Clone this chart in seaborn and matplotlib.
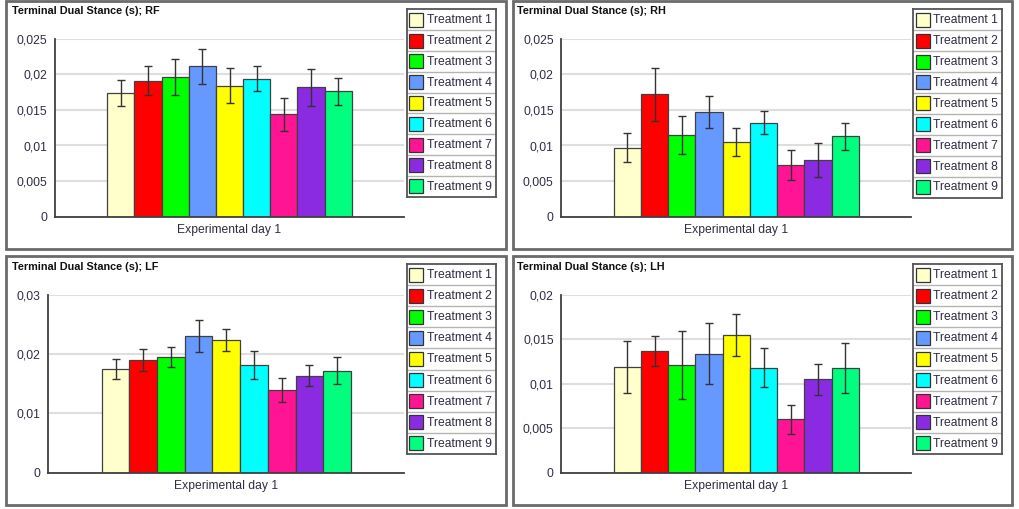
import numpy as np
import pandas as pd
import matplotlib
matplotlib.use("Agg")
import matplotlib.pyplot as plt
from matplotlib.patches import Rectangle
from matplotlib.ticker import FuncFormatter, FixedLocator
import seaborn as sns

# %%
treatments = [f"Treatment {i}" for i in range(1, 10)]
day_label = "Experimental day 1"
colors = ["#FFFFCC", "#FF0000", "#00FF00", "#6699FF", "#FFFF00",
          "#00FFFF", "#FF1493", "#8A2BE2", "#00FF7F"]

rf_mean = [0.0174, 0.0191, 0.0196, 0.0211, 0.0184, 0.0194, 0.0144, 0.0182, 0.0176]
rf_err = [0.0018, 0.0020, 0.0025, 0.0025, 0.0025, 0.0017, 0.0023, 0.0026, 0.0019]
rh_mean = [0.0097, 0.0172, 0.0115, 0.0147, 0.0105, 0.0132, 0.0073, 0.0080, 0.0113]
rh_err = [0.0020, 0.0037, 0.0027, 0.0022, 0.0020, 0.0016, 0.0021, 0.0024, 0.0019]
lf_mean = [0.0175, 0.0190, 0.0196, 0.0230, 0.0224, 0.0182, 0.0140, 0.0164, 0.0172]
lf_err = [0.0017, 0.0019, 0.0017, 0.0027, 0.0019, 0.0023, 0.0020, 0.0017, 0.0023]
lh_mean = [0.0119, 0.0137, 0.0121, 0.0134, 0.0155, 0.0118, 0.0060, 0.0105, 0.0118]
lh_err = [0.0029, 0.0017, 0.0038, 0.0034, 0.0024, 0.0022, 0.0016, 0.0017, 0.0028]

rf_ticks = [0, 0.005, 0.01, 0.015, 0.02, 0.025]
rh_ticks = [0, 0.005, 0.01, 0.015, 0.02, 0.025]
lf_ticks = [0, 0.01, 0.02, 0.03]
lh_ticks = [0, 0.005, 0.01, 0.015, 0.02]

# %%
sns.set_style("white")
plt.rcParams["font.family"] = ["Liberation Sans", "DejaVu Sans"]
text_col = "#2e2e44"
axis_col = "#404040"

W, H = 1019, 509
fig = plt.figure(figsize=(W / 100, H / 100), dpi=100)


def px_rect(x0, y0, x1, y1):
  return [x0 / W, 1 - y1 / H, (x1 - x0) / W, (y1 - y0) / H]


panels = [
  ("RF", rf_mean, rf_err, rf_ticks,
   (55, 38.7, 404, 216.7), (406.7, 9.3, 496, 196.7), (6, 1, 506, 249), (11.7, 11)),
  ("RH", rh_mean, rh_err, rh_ticks,
   (561.3, 38.7, 911.3, 216.7), (913, 9.3, 1002, 197.5), (513, 1, 1012, 249), (517.3, 11)),
  ("LF", lf_mean, lf_err, lf_ticks,
   (48.3, 295, 404.3, 472.7), (406.7, 264, 496, 454), (6, 256, 506, 505), (11.7, 267.3)),
  ("LH", lh_mean, lh_err, lh_ticks,
   (561.3, 295, 911.3, 472.7), (913, 264, 1002, 454), (513, 256, 1012, 505), (517.3, 267.3)),
]

fmt = FuncFormatter(lambda v, p: "{:g}".format(round(v, 4)).replace(".", ","))

for name, mean, err, ticks, ax_px, leg_px, frame_px, title_px in panels:
  # panel frame
  fig.add_artist(Rectangle(
    (frame_px[0] / W, 1 - frame_px[3] / H),
    (frame_px[2] - frame_px[0]) / W, (frame_px[3] - frame_px[1]) / H,
    transform=fig.transFigure, fill=False, edgecolor="#6a6a6a", linewidth=2,
  ))
  fig.text(title_px[0] / W, 1 - title_px[1] / H,
           f"Terminal Dual Stance (s); {name}",
           fontsize=7.8, fontweight="bold", color="#111111", va="center", ha="left")

  df = pd.DataFrame({"day": day_label, "treatment": treatments, "value": mean})
  ax = fig.add_axes(px_rect(*ax_px))
  sns.barplot(
    data=df, x="day", y="value", hue="treatment", hue_order=treatments,
    palette=colors, saturation=1, width=0.7, errorbar=None, legend=False,
    edgecolor=axis_col, linewidth=0.9, ax=ax,
  )
  bars = sorted(ax.patches, key=lambda b: b.get_x())
  for i, bar in enumerate(bars):
    ax.errorbar(bar.get_x() + bar.get_width() / 2, mean[i], yerr=err[i],
                fmt="none", ecolor="#333333", elinewidth=1, capsize=3, capthick=1)

  ax.set_xlim(-0.5, 0.5)
  ax.set_ylim(0, ticks[-1])
  ax.set_yticks(ticks)
  ax.yaxis.set_major_formatter(fmt)
  ax.set_xlabel("")
  ax.set_ylabel("")
  ax.xaxis.set_minor_locator(FixedLocator([-0.5, 0.5]))
  ax.tick_params(axis="x", which="major", length=0, pad=5, labelsize=8.7, labelcolor=text_col)
  ax.tick_params(axis="x", which="minor", length=6, width=1.2, direction="inout", color=axis_col)
  ax.tick_params(axis="y", length=7, width=1.2, direction="inout", color=axis_col,
                 pad=2, labelsize=8.7, labelcolor=text_col)
  ax.grid(axis="y", color="#dedede", linewidth=1.5)
  ax.set_axisbelow(True)
  sns.despine(ax=ax)
  for s in ("left", "bottom"):
    ax.spines[s].set_color(axis_col)
    ax.spines[s].set_linewidth(1.3)

  # legend box
  lax = fig.add_axes(px_rect(*leg_px))
  lax.set_xlim(0, 1)
  lax.set_ylim(len(treatments), 0)
  lax.set_xticks([])
  lax.set_yticks([])
  for s in lax.spines.values():
    s.set_color("#555555")
    s.set_linewidth(1.3)
  lw_px = leg_px[2] - leg_px[0]
  row_px = (leg_px[3] - leg_px[1]) / len(treatments)
  for i, (lab, c) in enumerate(zip(treatments, colors)):
    lax.add_patch(Rectangle((2.5 / lw_px, i + (row_px - 14) / 2 / row_px),
                            14 / lw_px, 14 / row_px,
                            facecolor=c, edgecolor="#333333", linewidth=0.9))
    lax.text(20 / lw_px, i + 0.52, lab, fontsize=8.7, color=text_col,
             va="center", ha="left")
    if i > 0:
      lax.axhline(i, color="#b4b4b4", linewidth=1)

plt.savefig("out.png", dpi=100)
